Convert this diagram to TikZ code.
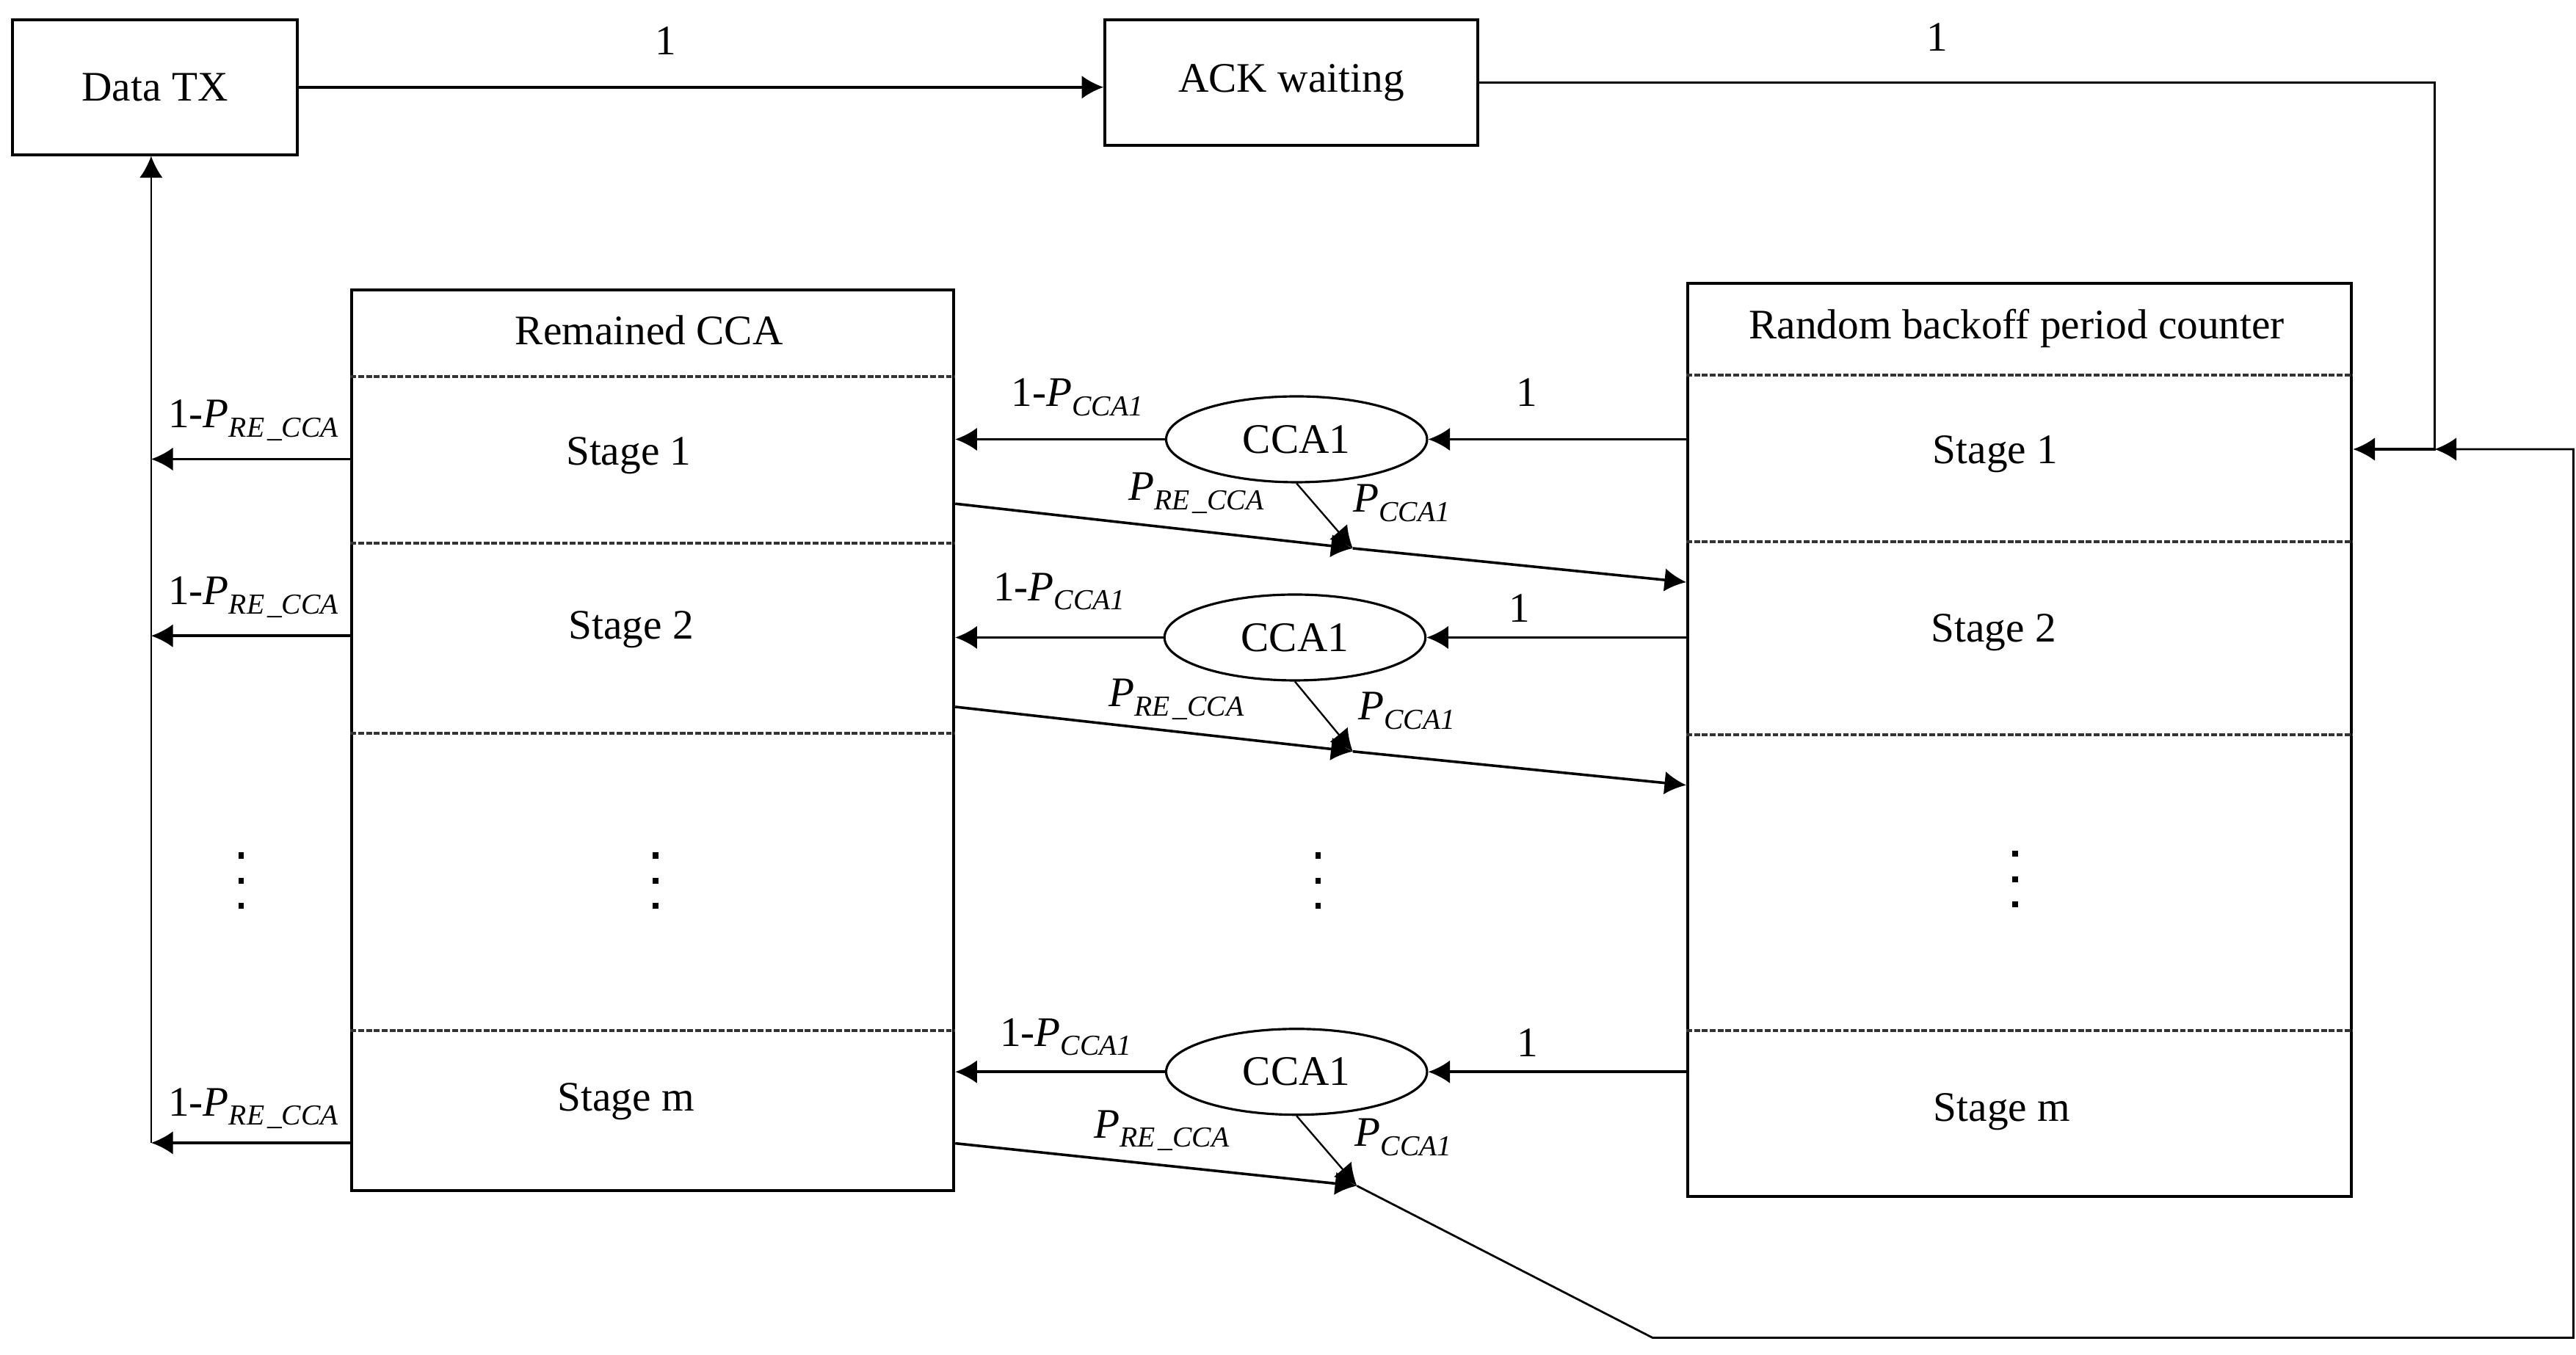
\documentclass[tikz,border=0pt]{standalone}
\usepackage{fontspec}
\setmainfont{Liberation Serif}
\usetikzlibrary{arrows.meta,shapes.geometric}
\newcommand\PRE{\textit{P}\raisebox{-3.2pt}{\fontsize{10}{10}\selectfont\textit{RE\kern1pt\_CCA}}}
\newcommand\PCCA{\textit{P}\raisebox{-3.2pt}{\fontsize{10}{10}\selectfont\textit{CCA1}}}
\tikzset{
  every node/.style={font=\fontsize{14.5}{17}\selectfont},
  box/.style={draw, line width=1pt, rectangle, inner sep=0pt},
  cca/.style={draw, ellipse, line width=0.8pt, minimum width=3.16cm, minimum height=1.04cm, inner sep=0pt},
  arr/.style={-{Latex[length=7.5pt,width=8pt]}, line width=0.9pt},
  thinarr/.style={-{Latex[length=7.5pt,width=8pt]}, line width=0.6pt},
  sep/.style={line width=0.9pt, black!80, dash pattern=on 2pt off 0.7pt},
  lbl/.style={inner sep=0pt, anchor=base west},
  num/.style={inner sep=0pt, anchor=base},
  txt/.style={inner sep=0pt},
}
\begin{document}
\begin{tikzpicture}[x=0.02cm, y=-0.02cm]
\useasboundingbox (0,0) rectangle (1559.6,820.4);

% boxes
\node[box, minimum width=3.45cm, minimum height=1.632cm] (dtx) at (93.75,52.8) {Data TX};
\node[box, minimum width=4.512cm, minimum height=1.52cm] (ack) at (781.8,50) {ACK waiting};
\node[box, minimum width=7.29cm, minimum height=10.912cm] (rca) at (395.25,448.2) {};
\node[box, minimum width=8.04cm, minimum height=11.058cm] (rbc) at (1222.8,448) {};

% box texts
\node[txt] (rcat) at (393,200) {Remained CCA};
\node[txt] (rs1) at (380.6,276) {Stage 1};
\node[txt] (rs2) at (382,381) {Stage 2};
\node[txt] (rsm) at (379,667) {Stage m};
\node[txt] (rbct) at (1221,199) {Random backoff period counter};
\node[txt] (bs1) at (1208,275) {Stage 1};
\node[txt] (bs2) at (1207,383) {Stage 2};
\node[txt] (bsm) at (1212,673) {Stage m};

% dashed separators
\foreach \yy in {228,329,444,624}
  \draw[sep] (rca.west |- 0,\yy) -- (rca.east |- 0,\yy);
\foreach \yy in {227,328,445,624}
  \draw[sep] (rbc.west |- 0,\yy) -- (rbc.east |- 0,\yy);

% dots
\foreach \xx/\yy in {146/518, 397/518, 798/518, 1220/517}
  \foreach \d in {0,15.3,30.6}
    \fill (\xx-1.7,\yy+\d-1.8) rectangle ++(3.4,3.6);

% CCA ellipses
\node[cca] (c1) at (785,266) {CCA1};
\node[cca] (c2) at (784,386) {CCA1};
\node[cca] (c3) at (785,649) {CCA1};

% coordinates
\coordinate (m1) at (819,332);
\coordinate (m2) at (819,455);
\coordinate (m3) at (821.5,718);
\coordinate (jn) at (1474,272);
\coordinate (lb) at (91.5,692);
\coordinate (b1) at (1000.5,810);
\coordinate (b2) at (1558,810);
\coordinate (b3) at (1558,272);

% top connectors
\draw[arr] (dtx.east) -- (ack.west |- dtx.east);
\node[num] (l1a) at (403,33) {1};
\draw[arr, line width=0.8pt] (ack.east) -- (ack.east -| jn) -- (jn) -- (rbc.east |- jn);
\node[num] (l1b) at (1173,31) {1};

% return to Data TX
\draw[arr, line width=0.6pt] (lb) -- (lb |- dtx.south);
\draw[arr] (rca.west |- 0,278) -- (lb |- 0,278);
\draw[arr] (rca.west |- 0,385) -- (lb |- 0,385);
\draw[arr] (rca.west |- lb) -- (lb);
\node[lbl] (q1) at (101.5,259) {1-\PRE};
\node[lbl] (q2) at (101.5,366) {1-\PRE};
\node[lbl] (q3) at (101.5,675.6) {1-\PRE};

% stage 1 CCA
\draw[arr] (rbc.west |- c1) -- (c1.east);
\draw[arr] (c1.west) -- (rca.east |- c1);
\draw[thinarr] (c1.south) -- (m1);
\draw[arr] (rca.east |- 0,305) -- (m1);
\draw[arr] (m1) -- (rbc.west |- 0,352.5);
\node[num] (o1) at (924.5,246) {1};
\node[lbl] (n1) at (612,246) {1-\PCCA};
\node[lbl] (p1) at (683,303) {\PRE};
\node[lbl] (s1) at (819,310) {\PCCA};

% stage 2 CCA
\draw[arr] (rbc.west |- c2) -- (c2.east);
\draw[arr] (c2.west) -- (rca.east |- c2);
\draw[thinarr] (c2.south) -- (m2);
\draw[arr] (rca.east |- 0,428) -- (m2);
\draw[arr] (m2) -- (rbc.west |- 0,475.4);
\node[num] (o2) at (920,376.6) {1};
\node[lbl] (n2) at (601,363.7) {1-\PCCA};
\node[lbl] (p2) at (671,428) {\PRE};
\node[lbl] (s2) at (822,436) {\PCCA};

% stage m CCA
\draw[arr] (rbc.west |- c3) -- (c3.east);
\draw[arr] (c3.west) -- (rca.east |- c3);
\draw[thinarr] (c3.south) -- (m3);
\draw[arr] (rca.east |- 0,692.3) -- (m3);
\draw[arr, line width=0.7pt] (m3) -- (b1) -- (b2) -- (b3) -- (jn);
\node[num] (o3) at (925,639.7) {1};
\node[lbl] (n3) at (605,633.5) {1-\PCCA};
\node[lbl] (p3) at (662,689) {\PRE};
\node[lbl] (s3) at (820,694) {\PCCA};
\end{tikzpicture}
\end{document}
